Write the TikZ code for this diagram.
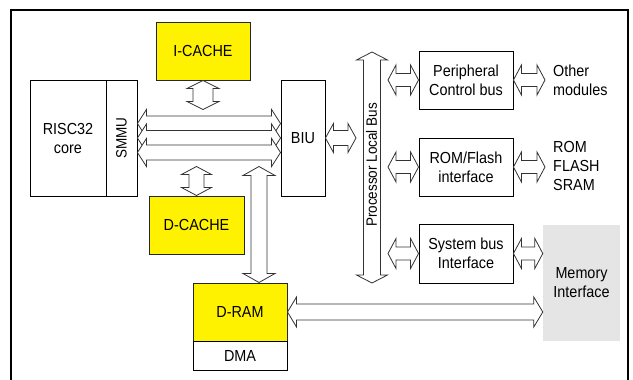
\documentclass[tikz,border=0pt]{standalone}
\usepackage{fontspec}
\setmainfont{Liberation Sans}[FakeStretch=0.9]
\usetikzlibrary{calc}
% horizontal double fat arrow: #1 left point, #2 right point (y of #1 used), #3 body half, #4 head half, #5 head length
\newcommand\harr[5]{%
  \draw[fat] let \p1=(#1), \p2=(#2) in
  (\x1,\y1) -- (\x1+#5,\y1+#4) -- (\x1+#5,\y1+#3) -- (\x2-#5,\y1+#3) -- (\x2-#5,\y1+#4) -- (\x2,\y1)
  -- (\x2-#5,\y1-#4) -- (\x2-#5,\y1-#3) -- (\x1+#5,\y1-#3) -- (\x1+#5,\y1-#4) -- cycle;}
% vertical double fat arrow: #1 upper point, #2 lower point (x of #1 used)
\newcommand\varr[5]{%
  \draw[fat] let \p1=(#1), \p2=(#2) in
  (\x1,\y1) -- (\x1+#4,\y1-#5) -- (\x1+#3,\y1-#5) -- (\x1+#3,\y2+#5) -- (\x1+#4,\y2+#5) -- (\x1,\y2)
  -- (\x1-#4,\y2+#5) -- (\x1-#3,\y2+#5) -- (\x1-#3,\y1-#5) -- (\x1-#4,\y1-#5) -- cycle;}
\begin{document}
\begin{tikzpicture}[x=1pt,y=-1pt,font=\fontsize{16}{19}\selectfont,
  box/.style={draw=black, line width=0.9pt, inner sep=0pt, align=center},
  ybox/.style={box, fill=yellow, draw=black!85, line width=1pt},
  fat/.style={draw=black!80, fill=white, line width=0.8pt, line join=miter}]
\useasboundingbox (0,0) rectangle (633,380);
\clip (0,0) rectangle (633,380);
% outer frame
\draw[line width=1.8pt] (11,395) -- (11,10) -- (628,10) -- (628,395);
% boxes
\node[ybox, minimum width=94pt, minimum height=58pt] (icache) at (203,51) {I-CACHE};
\node[box, minimum width=76pt, minimum height=116pt] (risc) at (68,138) {RISC32\\core};
\node[box, minimum width=31pt, minimum height=116pt] (smmu) at (121.5,138) {};
\node[rotate=90, font=\fontsize{15}{18}\selectfont] at (smmu.center) {SMMU};
\node[box, minimum width=44pt, minimum height=116pt] (biu) at (303,138) {BIU};
\node[ybox, minimum width=95pt, minimum height=58pt] (dcache) at (196.5,225) {D-CACHE};
\node[ybox, minimum width=94pt, minimum height=58pt] (dram) at (240,312) {D-RAM};
\node[box, minimum width=94pt, minimum height=29pt] (dma) at (240,355.5) {DMA};
\node[fill=gray!20, inner sep=0pt, align=center, minimum width=77pt, minimum height=116pt] (memif) at (581.5,283) {Memory\\Interface};
\node[box, minimum width=94pt, minimum height=58pt] (periph) at (466,80) {Peripheral\\Control bus};
\node[box, minimum width=94pt, minimum height=58pt] (romf) at (466,167) {ROM/Flash\\interface};
\node[box, minimum width=94pt, minimum height=59pt] (sysbus) at (466,253.5) {System bus\\Interface};
\node[anchor=west, align=left, inner sep=0pt] (other) at (553,80) {Other\\modules};
\node[anchor=west, align=left, inner sep=0pt] (romtxt) at (553,166) {ROM\\FLASH\\SRAM};
% named free ends
\coordinate (icE) at (icache.south |- 0,109.5);
\coordinate (dcE) at (dcache.north |- 0,166.5);
\coordinate (drT) at ([xshift=19pt]dram.north);
\coordinate (drE) at (drT |- 0,166.5);
\coordinate (plbT) at (372,52);
\coordinate (plbB) at (372,283);
\coordinate (plbL) at (356,138);
% bus arrows between SMMU and BIU
\harr{[yshift=14.5pt]smmu.east}{[yshift=14.5pt]biu.west}{7.5pt}{14pt}{9pt}
\harr{smmu.east}{biu.west}{7.5pt}{14pt}{9pt}
\harr{[yshift=-14.5pt]smmu.east}{[yshift=-14.5pt]biu.west}{7.5pt}{14pt}{9pt}
% vertical arrows
\varr{icache.south}{icE}{10pt}{16pt}{8pt}
\varr{dcE}{dcache.north}{7.5pt}{15pt}{8pt}
\varr{drE}{drT}{8pt}{16pt}{9pt}
% processor local bus
\varr{plbT}{plbB}{8.5pt}{15.5pt}{8pt}
\node[rotate=90, font=\fontsize{15}{18}\selectfont, inner sep=0pt] (plb) at (371.5,165) {Processor Local Bus};
% BIU to bus
\harr{biu.east}{plbL}{7.5pt}{14.5pt}{8pt}
% bus to peripheral boxes
\harr{periph.west -| 388,0}{periph.west}{6.5pt}{15pt}{8pt}
\harr{romf.west -| 388,0}{romf.west}{6.5pt}{15pt}{8pt}
\harr{sysbus.west -| 388,0}{sysbus.west}{6.5pt}{15pt}{8pt}
% boxes to outside
\harr{periph.east}{periph.east -| 545,0}{6.5pt}{15pt}{8pt}
\harr{romf.east}{romf.east -| 545,0}{6.5pt}{15pt}{8pt}
\harr{sysbus.east}{sysbus.east -| memif.west}{6.5pt}{15pt}{8pt}
% D-RAM to memory interface
\harr{dram.east}{dram.east -| memif.west}{8pt}{15pt}{9pt}
\end{tikzpicture}
\end{document}
